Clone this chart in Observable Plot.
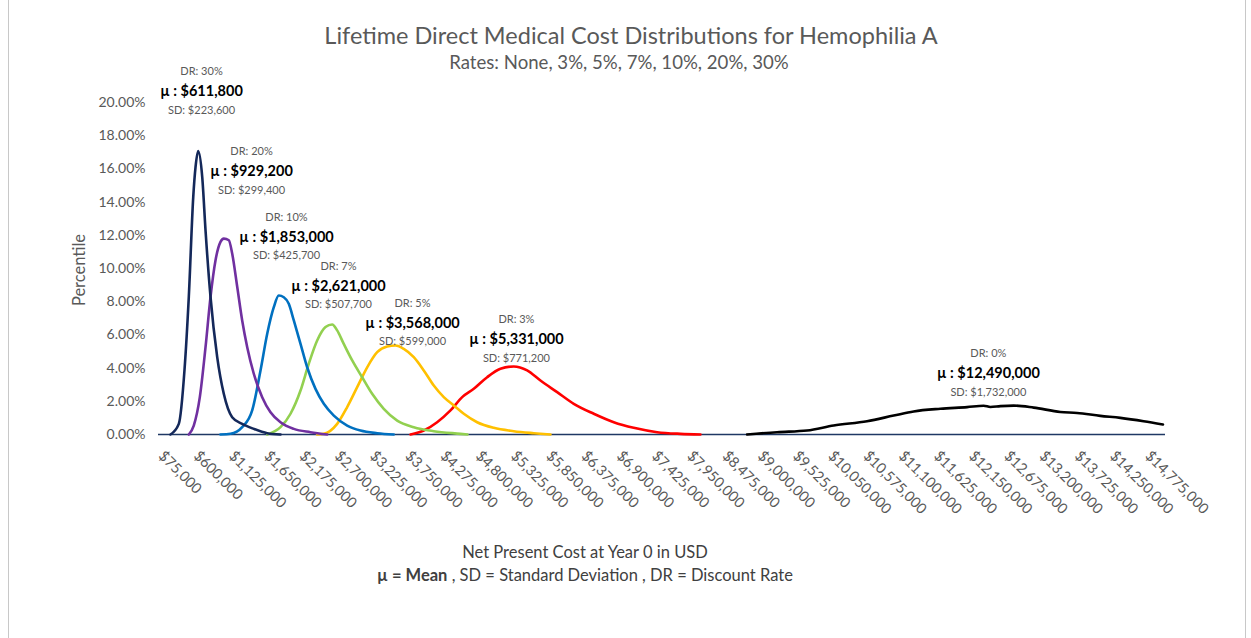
<!DOCTYPE html>
<html>
<head>
<meta charset="utf-8">
<script src="https://cdn.jsdelivr.net/npm/d3@7"></script>
<script src="https://cdn.jsdelivr.net/npm/@observablehq/plot@0.6"></script>
<style>
  html, body { margin: 0; padding: 0; background: #fff; }
  #wrap { position: relative; width: 1251px; height: 638px; overflow: hidden; font-family: Lato, "Open Sans", sans-serif; }
  #frame { position: absolute; left: 8px; top: -2px; width: 1236px; height: 650px; border-left: 1px solid #c8c8c8; border-right: 1px solid #c8c8c8; }
  .t { position: absolute; text-align: center; white-space: nowrap; pointer-events: none; }
  #title { left: 231px; width: 800px; top: 21px; height: 28px; line-height: 28px; font-size: 23.5px; color: #595959; }
  #subtitle { left: 219px; width: 800px; top: 51px; height: 22px; line-height: 22px; font-size: 18.6px; color: #595959; }
  #xlabel { left: 285px; width: 600px; top: 542px; height: 20px; line-height: 20px; font-size: 16.5px; color: #404040; }
  #note { left: 285px; width: 600px; top: 565px; height: 20px; line-height: 20px; font-size: 16.5px; color: #404040; }
  #ylabel { left: 29px; top: 260px; width: 100px; height: 20px; line-height: 20px; font-size: 16.5px; color: #595959; transform: rotate(-90deg); }
  #chart { position: absolute; left: 0; top: 0; }
</style>
</head>
<body>
<div id="wrap">
  <div id="frame"></div>
  <div id="chart"></div>
  <div class="t" id="title">Lifetime Direct Medical Cost Distributions for Hemophilia A</div>
  <div class="t" id="subtitle">Rates: None, 3%, 5%, 7%, 10%, 20%, 30%</div>
  <div class="t" id="ylabel">Percentile</div>
  <div class="t" id="xlabel">Net Present Cost at Year 0 in USD</div>
  <div class="t" id="note"><b>µ = Mean</b> , SD = Standard Deviation , DR = Discount Rate</div>
</div>
<script>
// Cost in $ thousands, value in percent
const dr30 = [[216,0],[340,0.64],[425,3.9],[489,8.3],[555,14.3],[589,16.1],[629,17.07],[689,15.5],[738,12.3],[812,8.3],[912,4.66],[1010,2.45],[1135,1.04],[1284,0.64],[1457,0.34],[1657,0.08],[1855,0]];
const dr20 = [[489,0],[563,0.54],[653,2.25],[738,5.26],[812,8.27],[887,10.5],[961,11.6],[1010,11.8],[1085,11.7],[1135,10.9],[1210,8.9],[1284,6.87],[1359,5.26],[1457,3.66],[1582,2.25],[1706,1.34],[1855,0.74],[2053,0.34],[2301,0.14],[2550,0]];
const dr10 = [[960,0],[1110,0.04],[1284,0.44],[1433,1.45],[1557,3.86],[1657,6.07],[1755,7.67],[1829,8.37],[1904,8.27],[1978,7.87],[2053,6.87],[2153,5.46],[2252,4.05],[2376,2.75],[2500,1.85],[2649,1.14],[2848,0.54],[3046,0.24],[3295,0.08],[3542,0]];
const dr7 = [[1657,0],[1855,0.44],[2004,1.25],[2153,2.65],[2276,4.26],[2401,5.66],[2525,6.47],[2625,6.63],[2699,6.27],[2797,5.46],[2923,4.46],[3071,3.45],[3220,2.45],[3393,1.55],[3593,0.84],[3840,0.44],[4138,0.2],[4535,0.04],[4640,0]];
const dr5 = [[2400,0],[2500,0.04],[2699,0.64],[2848,1.65],[2997,2.85],[3146,4.05],[3295,4.96],[3444,5.3],[3567,5.36],[3691,5.16],[3840,4.66],[3989,3.86],[4138,2.95],[4287,2.25],[4436,1.75],[4585,1.25],[4784,0.74],[5031,0.4],[5329,0.2],[5627,0.08],[5876,0]];
const dr3 = [[3791,0],[3989,0.24],[4188,0.74],[4387,1.45],[4561,2.25],[4734,2.75],[4933,3.45],[5131,3.96],[5329,4.1],[5529,3.86],[5727,3.25],[5976,2.55],[6223,1.85],[6521,1.25],[6819,0.74],[7116,0.4],[7465,0.14],[7812,0.04],[8110,0]];
const dr0 = [[8805,0],[9252,0.14],[9699,0.24],[10095,0.54],[10592,0.8],[10989,1.14],[11286,1.39],[11684,1.55],[12082,1.65],[12329,1.73],[12429,1.66],[12578,1.71],[12776,1.74],[13074,1.62],[13471,1.36],[13720,1.3],[14067,1.12],[14365,1.0],[14712,0.8],[15000,0.6]];

const seriesNames = ["DR: 0%", "DR: 3%", "DR: 5%", "DR: 7%", "DR: 10%", "DR: 20%", "DR: 30%"];
const seriesData = [dr0, dr3, dr5, dr7, dr10, dr20, dr30];
const seriesColors = ["#000000", "#ff0000", "#ffc000", "#92d050", "#0070c0", "#7030a0", "#14285a"];

// Annotation content
const annRates = ["DR: 30%", "DR: 20%", "DR: 10%", "DR: 7%", "DR: 5%", "DR: 3%", "DR: 0%"];
const annMeans = [611800, 929200, 1853000, 2621000, 3568000, 5331000, 12490000];
const annSDs = [223600, 299400, 425700, 507700, 599000, 771200, 1732000];
// Annotation anchors in data units (cost $K, percent)
const annX = [678, 1423, 1944, 2718, 3821, 5369, 12399];
const annY = [20.66, 15.84, 11.87, 8.92, 6.69, 5.72, 3.67];

const xTicks = [75000, 600000, 1125000, 1650000, 2175000, 2700000, 3225000, 3750000, 4275000, 4800000, 5325000, 5850000, 6375000, 6900000, 7425000, 7950000, 8475000, 9000000, 9525000, 10050000, 10575000, 11100000, 11625000, 12150000, 12675000, 13200000, 13725000, 14250000, 14775000];
const yTicks = [0, 2, 4, 6, 8, 10, 12, 14, 16, 18, 20];

const rows = [];
seriesData.forEach((arr, i) => arr.forEach(([c, v]) => rows.push({series: seriesNames[i], cost: c * 1000, pct: v})));
const anns = annRates.map((r, i) => ({rate: r, mean: annMeans[i], sd: annSDs[i], x: annX[i] * 1000, y: annY[i]}));

const money = d3.format("$,.0f");

const chart = Plot.plot({
  width: 1251,
  height: 638,
  marginLeft: 158,
  marginRight: 86,
  marginTop: 102,
  marginBottom: 204,
  style: {fontFamily: "Lato, 'Open Sans', sans-serif", background: "transparent", color: "#595959", overflow: "visible"},
  x: {type: "linear", domain: [37500, 15037500]},
  y: {domain: [0, 20]},
  color: {domain: seriesNames, range: seriesColors},
  marks: [
    Plot.axisY({ticks: yTicks, tickFormat: d => d.toFixed(2) + "%", tickSize: 0, tickPadding: 13, fontSize: 14, label: null}),
    Plot.axisX({ticks: xTicks, tickFormat: money, tickRotate: 45, tickSize: 0, tickPadding: 19, fontSize: 14.5, label: null}),
    Plot.ruleY([0], {stroke: "#1f3864", strokeWidth: 1.5}),
    Plot.line(rows, {x: "cost", y: "pct", z: "series", stroke: "series", strokeWidth: 2.6, curve: "monotone-x"}),
    Plot.text(anns, {x: "x", y: "y", text: d => "µ : " + money(d.mean), fontSize: 14.5, fontWeight: "bold", fill: "#000"}),
    Plot.text(anns, {x: "x", y: "y", text: "rate", dy: -20, fontSize: 11, fill: "#595959"}),
    Plot.text(anns, {x: "x", y: "y", text: d => "SD: " + money(d.sd), dy: 18.5, fontSize: 11, fill: "#595959"})
  ]
});
document.getElementById("chart").appendChild(chart);
</script>
</body>
</html>
